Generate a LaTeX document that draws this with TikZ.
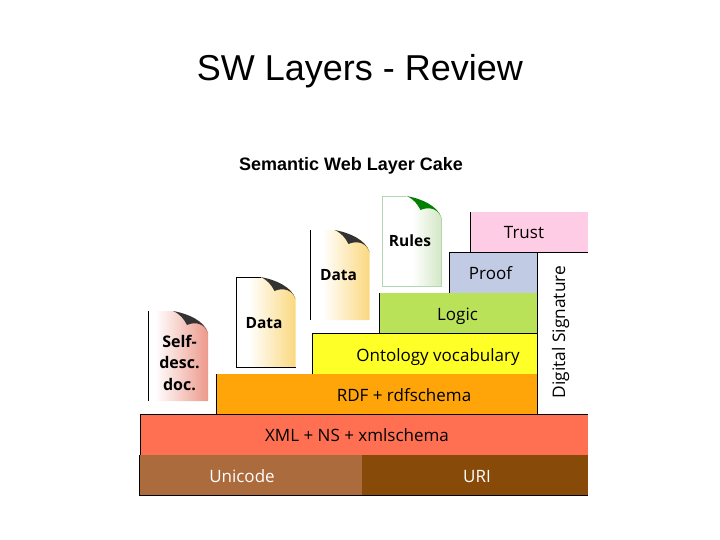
\documentclass[tikz,border=0pt]{standalone}
\usepackage{fontspec}
\setmainfont{Liberation Sans}
\newfontfamily\layerfont{Open Sans}
\newcommand{\pxfont}[1]{\fontsize{#1}{#1}\selectfont}
\definecolor{docredc}{HTML}{E2604A}
\definecolor{docyelc}{HTML}{F8C030}
\definecolor{docgrnc}{HTML}{A8CF8C}
\pgfdeclarehorizontalshading{docyel}{100bp}{color(0bp)=(white); color(35bp)=(white); color(100bp)=(docyelc)}
\pgfdeclarehorizontalshading{docgrn}{100bp}{color(0bp)=(white); color(50bp)=(white); color(100bp)=(docgrnc)}
\pgfdeclarehorizontalshading{docredb}{100bp}{color(0bp)=(white); color(30bp)=(white); color(100bp)=(docredc)}
\newcommand{\docbody}[3]{% x, y, shading
  \shade[shading=#3] (#1,#2) -- (#1+24,#2) .. controls (#1+40,#2+3) and (#1+56,#2+10) .. (#1+59,#2+22) -- (#1+59,#2+90) -- (#1,#2+90) -- cycle;
}
\newcommand{\docfold}[3]{% x, y, colour
  \fill[#3] (#1+24,#2) .. controls (#1+40,#2+3) and (#1+55,#2+10) .. (#1+59,#2+22)
     .. controls (#1+56,#2+13) and (#1+47,#2+10) .. (#1+38,#2+14)
     .. controls (#1+35,#2+8) and (#1+31,#2+3) .. (#1+24,#2) -- cycle;
}
\tikzset{
  layer/.style={draw=none,inner sep=0pt,text height=11pt,text depth=3pt,font=\layerfont\pxfont{17}},
  doclabel/.style={font=\layerfont\bfseries\pxfont{15.5},align=center,inner sep=0pt},
  edge/.style={black,line width=0.8pt},
}
\begin{document}
\begin{tikzpicture}[x=1pt,y=-1pt]
\useasboundingbox (0,0) rectangle (720,540);
\node[font=\pxfont{36},inner sep=0pt] (title) at (360,71) {SW Layers - Review};
\node[font=\bfseries\pxfont{18},inner sep=0pt] (sub) at (351,166) {Semantic Web Layer Cake};

% layers
\path[fill={rgb,255:red,255;green,204;blue,230}] (470,212) rectangle (588,252);
\path[fill={rgb,255:red,194;green,203;blue,228}] (449,252) rectangle (537,293);
\path[fill={rgb,255:red,186;green,226;blue,88}] (379,293) rectangle (537,333);
\path[fill={rgb,255:red,255;green,255;blue,40}] (312,333) rectangle (537,374);
\path[fill={rgb,255:red,255;green,165;blue,10}] (216,374) rectangle (537,414);
\path[fill={rgb,255:red,255;green,112;blue,82}] (140,414) rectangle (588,455);
\path[fill={rgb,255:red,171;green,107;blue,60}] (139.5,455) rectangle (362,495);
\path[fill={rgb,255:red,136;green,74;blue,8}] (362,455) rectangle (588,495);

% edges
\draw[edge] (470,252) -- (470,212);
\draw[edge] (449,293) -- (449,252) -- (588,252);
\draw[edge] (379,333) -- (379,293);
\draw[edge] (312,374) -- (312,333) -- (537,333);
\draw[edge] (216,414) -- (216,374);
\draw[edge] (140,455) -- (140,414) -- (588,414);
\draw[edge] (537,252) -- (537,414);
\draw[edge] (139.5,455) -- (139.5,495) -- (588,495);

% labels
\node[layer] (trust) at (524,235) {Trust};
\node[layer] (proof) at (490.5,275.5) {Proof};
\node[layer] (logic) at (457.5,316) {Logic};
\node[layer] (onto) at (438,357) {Ontology vocabulary};
\node[layer] (rdf) at (404,397) {RDF + rdfschema};
\node[layer] (xml) at (357,437.5) {XML + NS + xmlschema};
\node[layer,text=white] (unicode) at (242,478) {Unicode};
\node[layer,text=white] (uri) at (477,478) {URI};
\node[layer,rotate=90,font=\layerfont\pxfont{17.3}] (sig) at (561,332) {Digital Signature};

% documents
\docbody{149}{311}{docredb}
\docfold{149}{311}{black!80}
\draw[edge] (148.5,311) -- (148.5,401);
\node[doclabel,font=\layerfont\bfseries\fontsize{16}{21.5}\selectfont] (self) at (179.5,362.5) {Self-\\desc.\\doc.};

\docbody{236.5}{277}{docyel}
\docfold{236.5}{277}{black!80}
\draw[edge] (260.5,277) -- (236.5,277) -- (236.5,367) -- (295.5,367);
\node[doclabel] (data1) at (264,323) {Data};

\docbody{310.5}{230}{docyel}
\docfold{310.5}{230}{black!80}
\draw[edge] (310.5,230) -- (310.5,320);
\node[doclabel] (data2) at (338.5,275) {Data};

\docbody{382.5}{196}{docgrn}
\docfold{382.5}{196}{green!50!black}
\draw[black!55!green!30!white,line width=0.6pt] (406,196) -- (382.5,196) -- (382.5,286) -- (441.5,286) -- (441.5,218);
\node[doclabel] (rules) at (410,240.5) {Rules};
\end{tikzpicture}
\end{document}
